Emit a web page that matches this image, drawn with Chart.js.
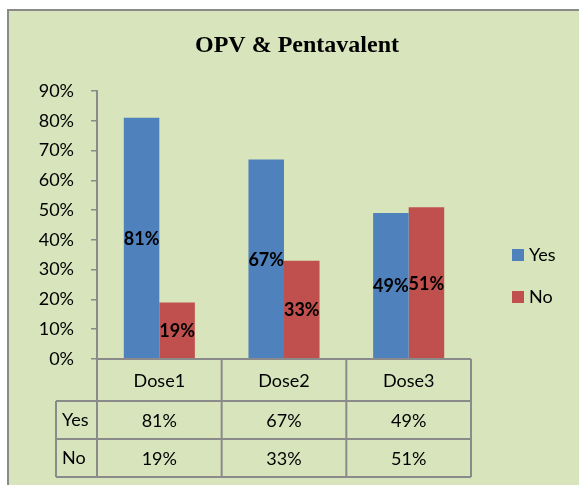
<!DOCTYPE html>
<html>
<head>
<meta charset="utf-8">
<script src="https://cdn.jsdelivr.net/npm/chart.js@4.4.1/dist/chart.umd.min.js"></script>
<style>
  html, body { margin: 0; padding: 0; background: #fff; }
  #wrap { position: relative; width: 579px; height: 485px; }
</style>
</head>
<body>
<div id="wrap"><canvas id="chart" width="579" height="485"></canvas></div>
<script>
const categories = ["Dose1", "Dose2", "Dose3"];
const seriesNames = ["Yes", "No"];
const yesValues = [81, 67, 49];
const noValues = [19, 33, 51];
const yTicks = [0, 10, 20, 30, 40, 50, 60, 70, 80, 90];

const COLORS = ["#4F81BD", "#C0504D"];
const FONT = "Lato, 'Open Sans', sans-serif";
const LINE = "#8a8a8a";

// fond, titre, tableau de données, légende
const frame = {
  id: "frame",
  beforeDraw(chart) {
    const ctx = chart.ctx;
    ctx.save();
    ctx.fillStyle = "#fff";
    ctx.fillRect(0, 0, chart.width, chart.height);
    ctx.fillStyle = "#D8E4BC";
    ctx.fillRect(8, 10, chart.width, chart.height);
    ctx.strokeStyle = LINE;
    ctx.lineWidth = 2;
    ctx.beginPath();
    ctx.moveTo(8, chart.height);
    ctx.lineTo(8, 10);
    ctx.lineTo(chart.width, 10);
    ctx.stroke();

    ctx.fillStyle = "#000";
    ctx.font = "bold 24px 'Liberation Serif', 'Times New Roman', serif";
    ctx.textAlign = "center";
    ctx.textBaseline = "alphabetic";
    ctx.fillText("OPV & Pentavalent", 297, 52);
    ctx.restore();
  },
  afterDraw(chart) {
    const ctx = chart.ctx;
    const x = chart.scales.x;
    const area = chart.chartArea;
    const top = area.bottom;
    const rows = [top, 401, 439, 477];
    const left = 56;
    const edges = [area.left];
    categories.forEach((c, i) => edges.push((x.getPixelForValue(i) + (i < categories.length - 1 ? x.getPixelForValue(i + 1) : x.getPixelForValue(i) + (x.getPixelForValue(i) - x.getPixelForValue(i - 1)))) / 2));
    edges[edges.length - 1] = area.right;

    ctx.save();
    ctx.strokeStyle = LINE;
    ctx.lineWidth = 2;
    ctx.beginPath();
    // lignes horizontales
    ctx.moveTo(area.left, rows[0]); ctx.lineTo(area.right, rows[0]);
    for (let r = 1; r < rows.length; r++) {
      ctx.moveTo(left, rows[r]); ctx.lineTo(area.right, rows[r]);
    }
    // lignes verticales
    ctx.moveTo(left, rows[1]); ctx.lineTo(left, rows[3]);
    edges.forEach(e => { ctx.moveTo(e, rows[0]); ctx.lineTo(e, rows[3]); });
    ctx.stroke();

    ctx.fillStyle = "#000";
    ctx.font = "18px " + FONT;
    ctx.textBaseline = "middle";
    ctx.textAlign = "center";
    const data = [yesValues, noValues];
    categories.forEach((c, i) => {
      const cx = (edges[i] + edges[i + 1]) / 2;
      ctx.fillText(c, cx, (rows[0] + rows[1]) / 2 + 1);
      data.forEach((vals, s) => {
        ctx.fillText(vals[i] + "%", cx, (rows[s + 1] + rows[s + 2]) / 2 + 1);
      });
    });
    ctx.textAlign = "left";
    seriesNames.forEach((n, s) => {
      ctx.fillText(n, 62, (rows[s + 1] + rows[s + 2]) / 2);
    });

    // légende
    const legendY = [255, 297];
    seriesNames.forEach((n, s) => {
      ctx.fillStyle = COLORS[s];
      ctx.fillRect(512, legendY[s] - 6, 12, 12);
      ctx.fillStyle = "#000";
      ctx.fillText(n, 529, legendY[s]);
    });
    ctx.restore();
  }
};

// étiquettes au centre des barres
const barLabels = {
  id: "barLabels",
  afterDatasetsDraw(chart) {
    const ctx = chart.ctx;
    ctx.save();
    ctx.fillStyle = "#000";
    ctx.font = "bold 18px " + FONT;
    ctx.textAlign = "center";
    ctx.textBaseline = "middle";
    chart.data.datasets.forEach((ds, di) => {
      chart.getDatasetMeta(di).data.forEach((bar, i) => {
        ctx.fillText(ds.data[i] + "%", bar.x, (bar.y + bar.base) / 2 + 1);
      });
    });
    ctx.restore();
  }
};

new Chart(document.getElementById("chart"), {
  type: "bar",
  data: {
    labels: categories,
    datasets: [
      { label: seriesNames[0], data: yesValues, backgroundColor: COLORS[0] },
      { label: seriesNames[1], data: noValues, backgroundColor: COLORS[1] }
    ]
  },
  options: {
    responsive: false,
    animation: false,
    layout: { padding: { left: 0, top: 91, right: 108, bottom: 126 } },
    datasets: { bar: { categoryPercentage: 0.57, barPercentage: 1 } },
    plugins: {
      legend: { display: false },
      tooltip: { enabled: false }
    },
    scales: {
      x: { display: false },
      y: {
        min: 0,
        max: 90,
        afterFit: s => { s.width = 97; },
        afterBuildTicks: s => { s.ticks = yTicks.map(v => ({ value: v })); },
        ticks: {
          padding: 17,
          color: "#000",
          font: { family: FONT, size: 18 },
          callback: v => v + "%"
        },
        grid: { drawOnChartArea: false, drawTicks: true, tickLength: 6, color: LINE, lineWidth: 1.5 },
        border: { display: true, color: LINE, width: 2 }
      }
    }
  },
  plugins: [frame, barLabels]
});
</script>
</body>
</html>
